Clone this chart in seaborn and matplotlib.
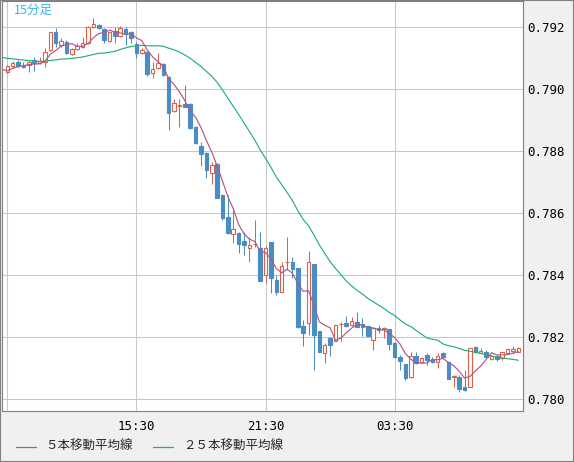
import numpy as np
import pandas as pd
import seaborn as sns
import matplotlib.pyplot as plt
from matplotlib.lines import Line2D
from matplotlib.patches import Rectangle

# 15 minute bars from 09:30, 96 bars
open_ = [0.79055, 0.79074, 0.79088, 0.79077, 0.79076, 0.79094, 0.79085, 0.79088,
         0.79127, 0.79184, 0.79142, 0.79153, 0.79112, 0.79128, 0.79136, 0.79147,
         0.79201, 0.79206, 0.79194, 0.79156, 0.79187, 0.79171, 0.79194, 0.79185,
         0.79145, 0.79115, 0.79120, 0.79051, 0.79067, 0.79081, 0.79040, 0.78930,
         0.78946, 0.78951, 0.78952, 0.78878, 0.78816, 0.78795, 0.78730, 0.78757,
         0.78658, 0.78588, 0.78531, 0.78537, 0.78510, 0.78486, 0.78499, 0.78486,
         0.78400, 0.78506, 0.78384, 0.78346, 0.78442, 0.78443, 0.78422, 0.78236,
         0.78244, 0.78435, 0.78219, 0.78147, 0.78196, 0.78188, 0.78241, 0.78246,
         0.78239, 0.78249, 0.78242, 0.78236, 0.78190, 0.78228, 0.78227, 0.78225,
         0.78180, 0.78137, 0.78113, 0.78070, 0.78139, 0.78118, 0.78142, 0.78128,
         0.78118, 0.78147, 0.78118, 0.78070, 0.78072, 0.78038, 0.78040, 0.78167,
         0.78149, 0.78153, 0.78129, 0.78139, 0.78131, 0.78149, 0.78155, 0.78153]
high = [0.79077, 0.79090, 0.79094, 0.79088, 0.79091, 0.79104, 0.79103, 0.79131,
        0.79184, 0.79198, 0.79165, 0.79158, 0.79133, 0.79147, 0.79167, 0.79203,
        0.79230, 0.79210, 0.79196, 0.79185, 0.79201, 0.79203, 0.79199, 0.79188,
        0.79153, 0.79133, 0.79121, 0.79088, 0.79117, 0.79083, 0.79041, 0.78967,
        0.78968, 0.79013, 0.78955, 0.78881, 0.78828, 0.78796, 0.78766, 0.78762,
        0.78660, 0.78658, 0.78615, 0.78538, 0.78540, 0.78522, 0.78577, 0.78538,
        0.78494, 0.78507, 0.78400, 0.78443, 0.78524, 0.78457, 0.78423, 0.78255,
        0.78477, 0.78436, 0.78220, 0.78182, 0.78201, 0.78240, 0.78247, 0.78268,
        0.78265, 0.78282, 0.78260, 0.78237, 0.78231, 0.78239, 0.78233, 0.78226,
        0.78185, 0.78142, 0.78114, 0.78153, 0.78153, 0.78137, 0.78149, 0.78135,
        0.78147, 0.78153, 0.78119, 0.78077, 0.78077, 0.78094, 0.78166, 0.78168,
        0.78164, 0.78158, 0.78142, 0.78142, 0.78153, 0.78164, 0.78171, 0.78169]
low = [0.79052, 0.79068, 0.79072, 0.79067, 0.79056, 0.79058, 0.79081, 0.79072,
       0.79124, 0.79136, 0.79136, 0.79113, 0.79110, 0.79126, 0.79131, 0.79144,
       0.79196, 0.79193, 0.79149, 0.79153, 0.79149, 0.79167, 0.79142, 0.79147,
       0.79099, 0.79112, 0.79042, 0.79036, 0.79063, 0.79042, 0.78868, 0.78927,
       0.78878, 0.78943, 0.78870, 0.78823, 0.78753, 0.78714, 0.78693, 0.78647,
       0.78577, 0.78532, 0.78502, 0.78470, 0.78465, 0.78443, 0.78490, 0.78381,
       0.78373, 0.78341, 0.78336, 0.78345, 0.78416, 0.78389, 0.78230, 0.78171,
       0.78207, 0.78094, 0.78152, 0.78115, 0.78139, 0.78187, 0.78188, 0.78233,
       0.78235, 0.78232, 0.78203, 0.78202, 0.78158, 0.78212, 0.78196, 0.78158,
       0.78131, 0.78094, 0.78061, 0.78069, 0.78113, 0.78115, 0.78110, 0.78115,
       0.78099, 0.78135, 0.78064, 0.78038, 0.78024, 0.78027, 0.78039, 0.78150,
       0.78147, 0.78135, 0.78126, 0.78124, 0.78126, 0.78145, 0.78145, 0.78152]
close = [0.79074, 0.79085, 0.79075, 0.79072, 0.79087, 0.79083, 0.79090, 0.79118,
         0.79183, 0.79147, 0.79155, 0.79117, 0.79129, 0.79140, 0.79147, 0.79201,
         0.79210, 0.79196, 0.79158, 0.79183, 0.79172, 0.79196, 0.79176, 0.79165,
         0.79117, 0.79126, 0.79048, 0.79064, 0.79085, 0.79045, 0.78924, 0.78954,
         0.78947, 0.78943, 0.78873, 0.78827, 0.78790, 0.78739, 0.78755, 0.78649,
         0.78583, 0.78537, 0.78547, 0.78500, 0.78497, 0.78497, 0.78500, 0.78382,
         0.78486, 0.78391, 0.78346, 0.78430, 0.78443, 0.78418, 0.78231, 0.78214,
         0.78441, 0.78207, 0.78153, 0.78174, 0.78174, 0.78239, 0.78242, 0.78236,
         0.78252, 0.78233, 0.78231, 0.78203, 0.78228, 0.78223, 0.78228, 0.78177,
         0.78135, 0.78124, 0.78068, 0.78139, 0.78117, 0.78131, 0.78126, 0.78120,
         0.78140, 0.78137, 0.78065, 0.78075, 0.78031, 0.78029, 0.78165, 0.78151,
         0.78155, 0.78137, 0.78139, 0.78129, 0.78151, 0.78160, 0.78160, 0.78165]
# closes of the 25 bars before the window (not drawn, only feed the averages)
prior_close = [0.79155, 0.79126, 0.79126, 0.79123, 0.79123, 0.79119, 0.79119, 0.79117,
               0.79110, 0.79103, 0.79097, 0.79094, 0.79085, 0.79087, 0.79094, 0.79100,
               0.79103, 0.79106, 0.79132, 0.79119, 0.79102, 0.79042, 0.79049, 0.79056,
               0.79070]

grid_x = [0, 24, 48, 72]
grid_x_labels = ["", "15:30", "21:30", "03:30"]
yticks = [0.780, 0.782, 0.784, 0.786, 0.788, 0.790, 0.792]

up_col = "#d9634a"
down_col = "#4a8cc4"
ma5_col = "#b0588a"
ma25_col = "#22b07a"

n = len(close)
o = np.array(open_)
c = np.array(close)
x = np.arange(n)

# moving averages
allc = pd.Series(prior_close + close)
k = len(prior_close) - 1
df_ma = pd.DataFrame({
    "idx": np.arange(-1, n),
    "ma5": allc.rolling(5).mean().iloc[k:].to_numpy(),
    "ma25": allc.rolling(25).mean().iloc[k:].to_numpy(),
})

sns.set_style("white")
plt.rcParams['font.family'] = ['DejaVu Sans Mono', 'Noto Sans CJK JP']

W, H = 574, 462
fig = plt.figure(figsize=(W / 100, H / 100), dpi=100, facecolor="#f0f0f0")
ax = fig.add_axes([2 / W, 51 / H, 521 / W, 410 / H])
ax.set_facecolor("white")

up = c >= o
cols = np.where(up, up_col, down_col)

# wicks then bodies
ax.vlines(x, low, high, colors=cols, lw=0.75, zorder=2)
ax.bar(x[up], c[up] - o[up], bottom=o[up], width=0.66, facecolor="white",
       edgecolor=up_col, lw=0.8, zorder=3)
ax.bar(x[~up], o[~up] - c[~up], bottom=c[~up], width=0.66, facecolor=down_col,
       edgecolor=down_col, lw=0.8, zorder=3)

sns.lineplot(data=df_ma, x="idx", y="ma25", color=ma25_col, lw=0.85, ax=ax, zorder=4)
sns.lineplot(data=df_ma, x="idx", y="ma5", color=ma5_col, lw=0.85, ax=ax, zorder=5)

ax.set_xlim(-0.985, 95.86)
ax.set_ylim(0.779613, 0.792839)
ax.set_xticks(grid_x)
ax.set_xticklabels(grid_x_labels)
ax.set_yticks(yticks)
ax.set_yticklabels([f"{v:.3f}" for v in yticks])
ax.yaxis.tick_right()
ax.tick_params(length=0, labelsize=9, colors="#000000")
ax.tick_params(axis="x", pad=6.5)
ax.tick_params(axis="y", pad=3)
ax.set_xlabel("")
ax.set_ylabel("")
ax.grid(True, color="#c8c8c8", lw=0.75, zorder=0)
ax.set_axisbelow(True)
for s in ax.spines.values():
    s.set_color("#808080")
    s.set_linewidth(0.8)

ax.text(12 / 521, 0.993, "15分足", transform=ax.transAxes, ha="left", va="top",
        color="#3cb0e8", fontsize=9, family=["Noto Sans CJK JP", "DejaVu Sans"])

# legend along the bottom
def fx(px):
    return px / W

def fy(py):
    return 1 - py / H

fig.add_artist(Line2D([fx(16), fx(36)], [fy(447), fy(447)], color=ma5_col, lw=0.9))
fig.text(fx(45), fy(446), "５本移動平均線", ha="left", va="center", fontsize=9,
         family=["Noto Sans CJK JP", "DejaVu Sans"])
fig.add_artist(Line2D([fx(153), fx(173)], [fy(447), fy(447)], color=ma25_col, lw=0.9))
fig.text(fx(183), fy(446), "２５本移動平均線", ha="left", va="center", fontsize=9,
         family=["Noto Sans CJK JP", "DejaVu Sans"])

fig.add_artist(Rectangle((0, 0), 1, 1, transform=fig.transFigure, fill=False,
                         edgecolor="#808080", lw=1.5))

fig.savefig("out.png", dpi=100, facecolor=fig.get_facecolor())
